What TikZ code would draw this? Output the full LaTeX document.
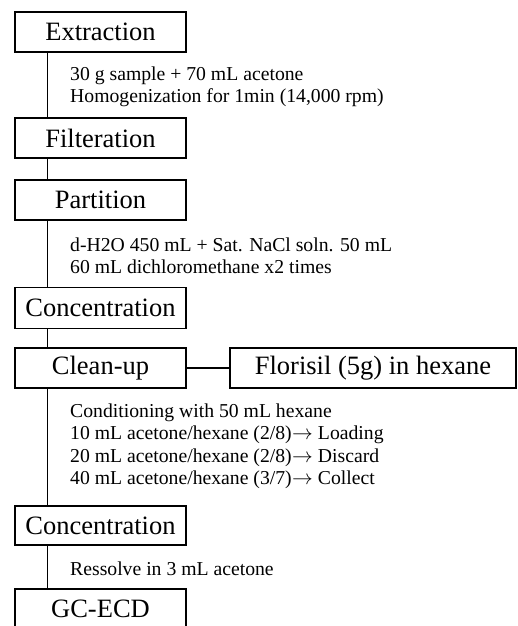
\documentclass[tikz,border=0pt]{standalone}
\usepackage{fontspec}
\setmainfont{Liberation Serif}
\newcommand{\toarrow}{\hspace{0.5pt}$\rightarrow$\hspace{5pt}}
\begin{document}
\begin{tikzpicture}[x=1pt,y=-1pt,
  stepbox/.style={draw, line width=1.2pt, minimum width=171pt, minimum height=40pt, inner sep=0pt,
    font=\fontsize{26.5}{30}\selectfont},
  note/.style={anchor=west, align=left, inner sep=0pt, font=\fontsize{19.7}{22.5}\selectfont},
  link/.style={line width=1.2pt}]
\useasboundingbox (0,0) rectangle (517,626);
\clip (0,0) rectangle (517,626);
\node[stepbox] (ext) at (100.5,32) {Extraction};
\node[stepbox] (fil) at (100.5,138) {Filteration};
\node[stepbox] (par) at (100.5,200) {Partition};
\node[stepbox, minimum height=41pt] (con1) at (100.5,308) {Concentration};
\node[stepbox] (cln) at (100.5,368) {Clean-up};
\node[stepbox, minimum width=286pt] (flo) at (373,368) {Florisil (5g) in hexane};
\node[stepbox, minimum height=39pt] (con2) at (100.5,525.5) {Concentration};
\node[stepbox] (gc) at (100.5,609) {GC-ECD};

\node[note] (t1) at (70,87) {30 g sample + 70 mL acetone\\Homogenization for 1min (14,000 rpm)};
\node[note] (t2) at (70,256) {d-H2O 450 mL + Sat. NaCl soln. 50 mL\\60 mL dichloromethane x2 times};
\node[note] (t3) at (70,446.5) {Conditioning with 50 mL hexane\\10 mL acetone/hexane (2/8)\toarrow Loading\\20 mL acetone/hexane (2/8)\toarrow Discard\\40 mL acetone/hexane (3/7)\toarrow Collect};
\node[note] (t4) at (70,569) {Ressolve in 3 mL acetone};

\draw[link] ([xshift=33pt]ext.south west) -- ([xshift=33pt]fil.north west);
\draw[link] ([xshift=33pt]fil.south west) -- ([xshift=33pt]par.north west);
\draw[link] ([xshift=33pt]par.south west) -- ([xshift=33pt]con1.north west);
\draw[link] ([xshift=33pt]con1.south west) -- ([xshift=33pt]cln.north west);
\draw[link] ([xshift=33pt]cln.south west) -- ([xshift=33pt]con2.north west);
\draw[link] ([xshift=33pt]con2.south west) -- ([xshift=33pt]gc.north west);
\draw[link] (cln.east) -- (flo.west);
\end{tikzpicture}
\end{document}
